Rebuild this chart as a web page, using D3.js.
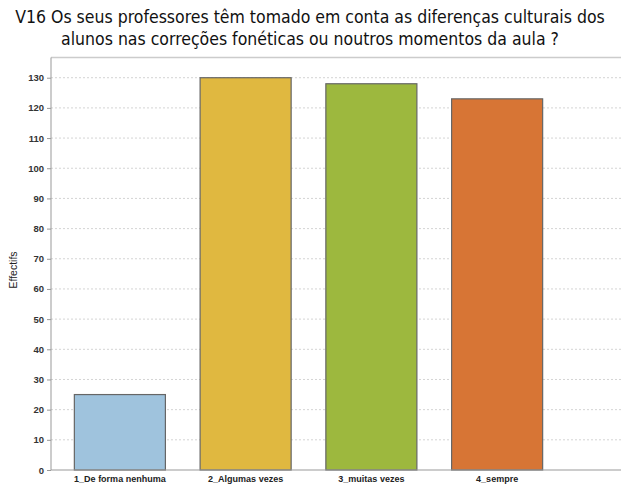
<!DOCTYPE html>
<html><head><meta charset="utf-8">
<script src="https://cdn.jsdelivr.net/npm/d3@7"></script>
<style>body{margin:0;background:#fff}svg{display:block}</style>
</head><body>
<script>
const categories = ["1_De forma nenhuma","2_Algumas vezes","3_muitas vezes","4_sempre"];
const values = [25,130,128,123];
const colors = ["#9fc3dd","#e0b840","#9db83e","#d77535"];
const yTicks = [0,10,20,30,40,50,60,70,80,90,100,110,120,130];
const titleLines = ["V16 Os seus professores têm tomado em conta as diferenças culturais dos","alunos nas correções fonéticas ou noutros momentos da aula ?"];
const yLabel = "Effectifs";

(function(){
const W=621,H=485;
const svg=d3.select("body").append("svg").attr("width",W).attr("height",H);
const pL=51,pT=57.5,pB=470;
const y=d3.scaleLinear().domain([0,136.7]).range([pB,pT]);
const x=d3.scaleBand().domain(categories).range([57,560]).paddingInner(0.276).paddingOuter(0.138);

// title
svg.append("g").selectAll("text").data(titleLines).join("text")
  .attr("x",310).attr("y",(d,i)=>23+i*22).attr("text-anchor","middle")
  .attr("font-family","DejaVu Sans Condensed, DejaVu Sans, sans-serif").attr("font-size",17.5)
  .attr("fill","#111").text(d=>d);

// plot frame top
svg.append("line").attr("x1",pL).attr("x2",W).attr("y1",pT).attr("y2",pT).attr("stroke","#ccc").attr("stroke-width",1.5);

// grid
svg.append("g").selectAll("line").data(yTicks.filter(d=>d>0)).join("line")
  .attr("x1",pL).attr("x2",W).attr("y1",d=>y(d)).attr("y2",d=>y(d))
  .attr("stroke","#d4d4d4").attr("stroke-dasharray","2,2");

// bars
svg.append("g").selectAll("rect").data(values).join("rect")
  .attr("x",(d,i)=>x(categories[i])).attr("width",x.bandwidth())
  .attr("y",d=>y(d)).attr("height",d=>y(0)-y(d))
  .attr("fill",(d,i)=>colors[i]).attr("stroke","#666").attr("stroke-width",1.2);

// y axis
const ya=svg.append("g").attr("transform",`translate(${pL},0)`)
  .call(d3.axisLeft(y).tickValues(yTicks).tickSize(4).tickPadding(3).tickSizeOuter(0));
ya.select(".domain").attr("stroke","#999").attr("d",`M0,${pT}V${pB}`);
ya.selectAll(".tick line").attr("stroke","#999");
ya.selectAll("text").attr("font-family","Liberation Sans, Arial, sans-serif").attr("font-size",9.5).attr("fill","#333").attr("font-weight","bold");

// x axis
const xa=svg.append("g").attr("transform",`translate(0,${pB})`).call(d3.axisBottom(x).tickSize(0).tickPadding(6));
xa.select(".domain").attr("stroke","#999").attr("d",`M${pL},0H${W}`);
xa.selectAll("text").attr("font-family","Liberation Sans, Arial, sans-serif").attr("font-size",9).attr("fill","#222").attr("font-weight","bold");

// y label
svg.append("text").attr("transform",`translate(17,270) rotate(-90)`).attr("text-anchor","middle")
  .attr("font-family","Liberation Sans, Arial, sans-serif").attr("font-size",10.5).attr("fill","#222").text(yLabel);
})();
</script>
</body></html>
